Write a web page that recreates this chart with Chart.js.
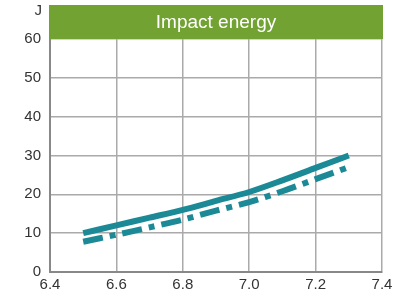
<!DOCTYPE html>
<html>
<head>
<meta charset="utf-8">
<script src="https://cdn.jsdelivr.net/npm/chart.js@4.4.0/dist/chart.umd.min.js"></script>
<style>
  html, body { margin: 0; padding: 0; background: #fff; }
  #wrap { width: 400px; height: 296px; }
</style>
</head>
<body>
<div id="wrap"><canvas id="impactChart" width="400" height="296"></canvas></div>
<script>
// data
var xValues = [6.5, 6.6, 6.7, 6.8, 6.9, 7.0, 7.1, 7.2, 7.3];
var solidValues = [10, 12, 14, 16, 18.3, 20.6, 23.6, 26.8, 30];
var dashValues = [7.8, 9.6, 11.5, 13.5, 15.8, 18, 20.8, 23.9, 27];
var chartTitle = "Impact energy";
var unitLabel = "J";

var teal = "#1b8a96";
var green = "#72a332";

// green title banner and unit label drawn above the plot area
var bannerPlugin = {
  id: "banner",
  afterDraw: function (chart) {
    var ctx = chart.ctx;
    var a = chart.chartArea;
    ctx.save();
    ctx.fillStyle = green;
    ctx.fillRect(a.left - 1, 5, a.right - a.left + 2, a.top - 5);
    ctx.fillStyle = "#fff";
    ctx.font = "19px 'Liberation Sans', Arial, sans-serif";
    ctx.textAlign = "center";
    ctx.textBaseline = "middle";
    ctx.fillText(chartTitle, (a.left + a.right) / 2, (5 + a.top) / 2 + 1);
    ctx.fillStyle = "#333";
    ctx.font = "15px 'Liberation Sans', Arial, sans-serif";
    ctx.textAlign = "right";
    ctx.fillText(unitLabel, 42, 11);
    ctx.restore();
  }
};

function toPoints(ys) {
  return xValues.map(function (x, i) { return { x: x, y: ys[i] }; });
}

new Chart("impactChart", {
  type: "line",
  data: {
    datasets: [{
      data: toPoints(solidValues),
      borderColor: teal,
      borderWidth: 6,
      pointRadius: 0,
      tension: 0.3,
      borderCapStyle: "butt"
    }, {
      data: toPoints(dashValues),
      borderColor: teal,
      borderWidth: 6,
      borderDash: [20, 7, 6, 7],
      pointRadius: 0,
      tension: 0.3,
      borderCapStyle: "butt"
    }]
  },
  options: {
    responsive: false,
    animation: false,
    layout: { padding: { top: 39, right: 18, left: 0, bottom: 0 } },
    plugins: { legend: { display: false }, tooltip: { enabled: false } },
    scales: {
      x: {
        type: "linear",
        min: 6.4,
        max: 7.4,
        afterFit: function (s) { s.height = 24; },
        ticks: {
          stepSize: 0.2,
          color: "#333",
          padding: 4,
          font: { family: "'Liberation Sans', Arial, sans-serif", size: 15 },
          callback: function (v) { return v.toFixed(1); }
        },
        grid: { color: "#aaa", lineWidth: 1.5, drawTicks: false },
        border: { color: "#888", width: 2 }
      },
      y: {
        min: 0,
        max: 60,
        afterFit: function (s) { s.width = 50; },
        ticks: {
          stepSize: 10,
          color: "#333",
          padding: 9,
          font: { family: "'Liberation Sans', Arial, sans-serif", size: 15 }
        },
        grid: { color: "#aaa", lineWidth: 1.5, drawTicks: false },
        border: { color: "#888", width: 2 }
      }
    }
  },
  plugins: [bannerPlugin]
});
</script>
</body>
</html>
